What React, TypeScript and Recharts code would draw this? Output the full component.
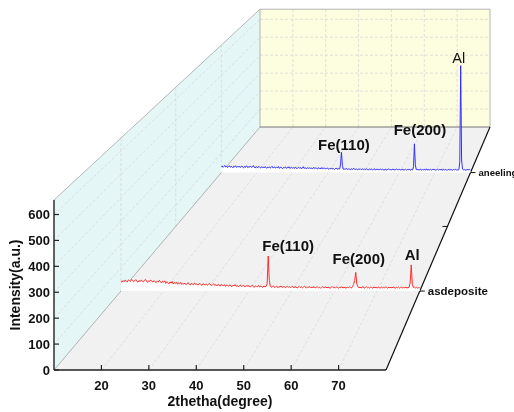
import { ComposedChart, Area, XAxis, YAxis, Customized } from 'recharts';

// 2theta grid (degree)
const twoTheta = [
  10, 10.25, 10.5, 10.75, 11, 11.25, 11.5, 11.75, 12, 12.25, 12.5, 12.75, 13, 13.25, 13.5, 13.75, 14, 14.25, 14.5, 14.75,
  15, 15.25, 15.5, 15.75, 16, 16.25, 16.5, 16.75, 17, 17.25, 17.5, 17.75, 18, 18.25, 18.5, 18.75, 19, 19.25, 19.5, 19.75,
  20, 20.25, 20.5, 20.75, 21, 21.25, 21.5, 21.75, 22, 22.25, 22.5, 22.75, 23, 23.25, 23.5, 23.75, 24, 24.25, 24.5, 24.75,
  25, 25.25, 25.5, 25.75, 26, 26.25, 26.5, 26.75, 27, 27.25, 27.5, 27.75, 28, 28.25, 28.5, 28.75, 29, 29.25, 29.5, 29.75,
  30, 30.25, 30.5, 30.75, 31, 31.25, 31.5, 31.75, 32, 32.25, 32.5, 32.75, 33, 33.25, 33.5, 33.75, 34, 34.25, 34.5, 34.75,
  35, 35.25, 35.5, 35.75, 36, 36.25, 36.5, 36.75, 37, 37.25, 37.5, 37.75, 38, 38.25, 38.5, 38.75, 39, 39.25, 39.5, 39.75,
  40, 40.25, 40.5, 40.75, 41, 41.25, 41.5, 41.75, 42, 42.25, 42.5, 42.75, 43, 43.25, 43.5, 43.75, 44, 44.25, 44.5, 44.75,
  45, 45.25, 45.5, 45.75, 46, 46.25, 46.5, 46.75, 47, 47.25, 47.5, 47.75, 48, 48.25, 48.5, 48.75, 49, 49.25, 49.5, 49.75,
  50, 50.25, 50.5, 50.75, 51, 51.25, 51.5, 51.75, 52, 52.25, 52.5, 52.75, 53, 53.25, 53.5, 53.75, 54, 54.25, 54.5, 54.75,
  55, 55.25, 55.5, 55.75, 56, 56.25, 56.5, 56.75, 57, 57.25, 57.5, 57.75, 58, 58.25, 58.5, 58.75, 59, 59.25, 59.5, 59.75,
  60, 60.25, 60.5, 60.75, 61, 61.25, 61.5, 61.75, 62, 62.25, 62.5, 62.75, 63, 63.25, 63.5, 63.75, 64, 64.25, 64.5, 64.75,
  65, 65.25, 65.5, 65.75, 66, 66.25, 66.5, 66.75, 67, 67.25, 67.5, 67.75, 68, 68.25, 68.5, 68.75, 69, 69.25, 69.5, 69.75,
  70, 70.25, 70.5, 70.75, 71, 71.25, 71.5, 71.75, 72, 72.25, 72.5, 72.75, 73, 73.25, 73.5, 73.75, 74, 74.25, 74.5, 74.75,
  75, 75.25, 75.5, 75.75, 76, 76.25, 76.5, 76.75, 77, 77.25, 77.5, 77.75, 78, 78.25, 78.5, 78.75, 79, 79.25, 79.5, 79.75,
  80,
];

const asdeposite = [
  42, 38, 45, 40, 47, 43, 39, 48, 44, 41, 50, 46, 40, 44, 49, 42, 38, 45, 41, 47,
  43, 39, 46, 50, 42, 37, 44, 41, 47, 43, 38, 45, 40, 36, 43, 39, 46, 41, 35, 42,
  38, 44, 33, 40, 36, 31, 39, 34, 41, 30, 36, 32, 38, 29, 35, 31, 37, 28, 33, 30,
  34, 27, 32, 36, 29, 26, 33, 30, 27, 35, 28, 31, 25, 30, 33, 27, 24, 31, 28, 26,
  30, 25, 29, 33, 26, 23, 28, 31, 24, 27, 22, 29, 26, 21, 28, 25, 23, 27, 20, 26,
  24, 21, 27, 23, 19, 25, 22, 28, 20, 24, 18, 23, 26, 19, 22, 25, 18, 21, 24, 20,
  23, 17, 21, 25, 19, 16, 22, 20, 18, 24, 17, 21, 19, 16, 22, 18, 20, 30, 150, 45,
  20, 16, 19, 22, 15, 18, 21, 14, 19, 17, 22, 15, 18, 20, 14, 17, 21, 16, 19, 15,
  18, 21, 14, 17, 19, 13, 16, 20, 15, 18, 14, 17, 21, 15, 13, 18, 16, 19, 14, 17,
  15, 19, 13, 16, 18, 14, 17, 12, 16, 19, 14, 15, 18, 13, 17, 15, 12, 16, 19, 14,
  16, 13, 18, 15, 12, 17, 14, 19, 13, 16, 15, 12, 17, 14, 18, 15, 13, 19, 28, 45,
  80, 30, 18, 14, 17, 13, 16, 19, 12, 15, 18, 14, 16, 13, 17, 15, 12, 18, 14, 16,
  13, 17, 15, 12, 18, 14, 16, 13, 19, 15, 12, 17, 14, 16, 13, 18, 15, 12, 16, 14,
  17, 13, 15, 18, 12, 16, 14, 17, 13, 15, 16, 35, 112, 28, 15, 17, 13, 16, 12, 15,
  14,
];

const aneeling = [
  30, 34, 27, 32, 36, 29, 33, 26, 31, 35, 28, 32, 30, 25, 33, 29, 35, 27, 31, 28,
  33, 26, 30, 34, 28, 24, 31, 27, 35, 29, 25, 32, 28, 33, 26, 30, 36, 27, 24, 31,
  28, 25, 32, 27, 23, 30, 26, 29, 24, 31, 27, 22, 28, 25, 30, 23, 27, 32, 24, 26,
  29, 23, 27, 25, 31, 22, 26, 28, 24, 20, 27, 25, 29, 22, 26, 24, 30, 21, 25, 27,
  23, 26, 21, 28, 24, 20, 25, 27, 22, 26, 19, 24, 30, 21, 25, 23, 20, 26, 22, 24,
  21, 25, 19, 23, 27, 20, 24, 22, 18, 25, 21, 23, 19, 26, 20, 22, 24, 18, 21, 23,
  20, 17, 22, 19, 24, 18, 21, 16, 20, 23, 17, 19, 21, 18, 45, 104, 35, 18, 16, 20,
  17, 21, 15, 19, 18, 14, 20, 16, 18, 22, 15, 17, 19, 14, 18, 16, 20, 15, 17, 19,
  15, 18, 14, 20, 16, 13, 17, 19, 15, 18, 14, 16, 20, 13, 17, 15, 18, 14, 16, 19,
  14, 17, 15, 12, 18, 16, 13, 17, 19, 14, 16, 12, 18, 15, 17, 13, 16, 19, 14, 15,
  17, 13, 16, 14, 18, 12, 15, 17, 13, 16, 14, 18, 15, 12, 17, 14, 30, 148, 40, 16,
  14, 17, 13, 15, 18, 12, 16, 14, 17, 13, 15, 19, 12, 16, 14, 17, 13, 15, 18, 14,
  16, 12, 15, 17, 13, 16, 14, 18, 12, 15, 17, 13, 16, 14, 12, 17, 15, 13, 16, 14,
  12, 16, 14, 17, 13, 15, 12, 16, 55, 550, 65, 18, 14, 16, 12, 15, 13, 17, 14, 16,
  13,
];

const xTicks = [20, 30, 40, 50, 60, 70];
const yTicks = [0, 100, 200, 300, 400, 500, 600];
const xRange = [10, 80];
const yRange = [0, 656];

// depth axis: samples sit at 1 and 3, unlabeled tick at 2
const samples = ['asdeposite', 'aneeling'];
const sampleDepth = [1, 3];
const depthTicks = [1, 2, 3];
const depthMax = 4;

const peakLabels = [
  { sample: 'asdeposite', text: 'Fe(110)', theta: 44.5 },
  { sample: 'asdeposite', text: 'Fe(200)', theta: 65 },
  { sample: 'asdeposite', text: 'Al', theta: 78 },
  { sample: 'aneeling', text: 'Fe(110)', theta: 43.75 },
  { sample: 'aneeling', text: 'Fe(200)', theta: 64.25 },
  { sample: 'aneeling', text: 'Al', theta: 77.25 },
];
const labelOffsets = [
  { dx: 20, dy: -5.5, weight: 'bold' },
  { dx: 3, dy: -8, weight: 'bold' },
  { dx: 1, dy: -4.5, weight: 'bold' },
  { dx: 2.5, dy: -2, weight: 'bold' },
  { dx: 5.5, dy: -9, weight: 'bold' },
  { dx: -2, dy: -2.5, weight: 'normal' },
];

const seriesColor: Record<string, string> = { asdeposite: '#ff2a2a', aneeling: '#2e2eff' };
const seriesData: Record<string, number[]> = { asdeposite, aneeling };

const rows = twoTheta.map((t, i) => ({ twoTheta: t, asdeposite: asdeposite[i], aneeling: aneeling[i] }));

// layout / projection
const W = 506;
const H = 404;
const FRONT = { left: 46, right: 378, bottom: 362, top: 192 };
const BACK_LEFT = 252;
const BACK_BOTTOM = 119;
const K_BACK = 230 / 332;
const PLOT = { left: 46, right: 482, top: 1, bottom: 362 };
const FONT = '"Liberation Sans", Arial, sans-serif';

const VX = (BACK_LEFT - K_BACK * FRONT.left) / (1 - K_BACK);
const VY = (BACK_BOTTOM - K_BACK * FRONT.bottom) / (1 - K_BACK);
const ppd = (FRONT.right - FRONT.left) / (xRange[1] - xRange[0]);
const ppu = (FRONT.bottom - FRONT.top) / (yRange[1] - yRange[0]);
const shrink = (z: number) => 1 / (1 + ((1 / K_BACK - 1) * z) / depthMax);

function project(theta: number, v: number, z: number): [number, number] {
  const k = shrink(z);
  const fx = FRONT.left + (theta - xRange[0]) * ppd;
  const fy = FRONT.bottom - (v - yRange[0]) * ppu;
  return [VX + (fx - VX) * k, VY + (fy - VY) * k];
}

function xDomainAt(z: number): [number, number] {
  const k = shrink(z);
  const inv = (sx: number) => xRange[0] + (VX + (sx - VX) / k - FRONT.left) / ppd;
  return [inv(PLOT.left), inv(PLOT.right)];
}

function yDomainAt(z: number): [number, number] {
  const k = shrink(z);
  const inv = (sy: number) => yRange[0] + (FRONT.bottom - (VY + (sy - VY) / k)) / ppu;
  return [inv(PLOT.bottom), inv(PLOT.top)];
}

const pts = (list: [number, number][]) => list.map((p) => p.join(',')).join(' ');

function Walls() {
  const [x0, x1] = xRange;
  const [v0, v1] = yRange;
  const D = depthMax;
  const floor = [project(x0, v0, 0), project(x1, v0, 0), project(x1, v0, D), project(x0, v0, D)];
  const side = [project(x0, v0, 0), project(x0, v1, 0), project(x0, v1, D), project(x0, v0, D)];
  const back = [project(x0, v0, D), project(x1, v0, D), project(x1, v1, D), project(x0, v1, D)];
  const grid = { stroke: '#d4d4d4', strokeWidth: 0.7, strokeDasharray: '3 2' };
  const seg = (a: [number, number], b: [number, number], key: string) => (
    <line key={key} x1={a[0]} y1={a[1]} x2={b[0]} y2={b[1]} {...grid} />
  );
  return (
    <g>
      <polygon points={pts(floor)} fill="#f1f1f1" />
      <polygon points={pts(side)} fill="#e4f6f6" />
      <polygon points={pts(back)} fill="#fdfddf" />
      {xTicks.map((t) => seg(project(t, v0, 0), project(t, v0, D), `fx${t}`))}
      {xTicks.map((t) => seg(project(t, v0, D), project(t, v1, D), `bx${t}`))}
      {yTicks.slice(1).map((v) => seg(project(x0, v, D), project(x1, v, D), `by${v}`))}
      {yTicks.slice(1).map((v) => seg(project(x0, v, 0), project(x0, v, D), `sy${v}`))}
      {depthTicks.map((z) => seg(project(x0, v0, z), project(x0, v1, z), `sz${z}`))}
      <polyline points={pts([project(x0, v1, 0), project(x0, v1, D), project(x1, v1, D), project(x1, v0, D)])} fill="none" stroke="#b5b5b5" strokeWidth={1} />
      <line x1={project(x0, v0, D)[0]} y1={project(x0, v0, D)[1]} x2={project(x0, v1, D)[0]} y2={project(x0, v1, D)[1]} stroke="#b5b5b5" strokeWidth={1} />
      <line x1={project(x0, v0, 0)[0]} y1={project(x0, v0, 0)[1]} x2={project(x0, v0, D)[0]} y2={project(x0, v0, D)[1]} stroke="#a0a0a0" strokeWidth={0.8} />
      <line x1={project(x0, v0, D)[0]} y1={project(x0, v0, D)[1]} x2={project(x1, v0, D)[0]} y2={project(x1, v0, D)[1]} stroke="#777" strokeWidth={1} />
    </g>
  );
}

function Overlay() {
  const [x0, x1] = xRange;
  const [v0, v1] = yRange;
  const o = project(x0, v0, 0);
  const xEnd = project(x1, v0, 0);
  const yEnd = project(x0, v1, 0);
  const dEnd = project(x1, v0, depthMax);
  return (
    <g fontFamily={FONT}>
      <line x1={o[0]} y1={o[1]} x2={xEnd[0]} y2={xEnd[1]} stroke="#222" strokeWidth={1.4} />
      <line x1={o[0]} y1={o[1]} x2={yEnd[0]} y2={yEnd[1]} stroke="#222" strokeWidth={1.4} />
      <line x1={xEnd[0]} y1={xEnd[1]} x2={dEnd[0]} y2={dEnd[1]} stroke="#111" strokeWidth={1.2} />
      {depthTicks.map((z) => {
        const p = project(x1, v0, z);
        const i = sampleDepth.indexOf(z);
        const dir = i >= 0 ? 1 : -1;
        const fs = 12.8 * shrink(z);
        return (
          <g key={z}>
            <line x1={p[0]} y1={p[1]} x2={p[0] + 5 * dir} y2={p[1]} stroke="#111" strokeWidth={1} />
            {i >= 0 && (
              <text x={p[0] + 8} y={p[1] + fs * 0.36} fontSize={fs} fontWeight="bold" fill="#111">
                {samples[i]}
              </text>
            )}
          </g>
        );
      })}
      {peakLabels.map((l, i) => {
        const si = samples.indexOf(l.sample);
        const v = seriesData[l.sample][twoTheta.indexOf(l.theta)];
        const p = project(l.theta, v, sampleDepth[si]);
        const s = labelOffsets[i];
        return (
          <text key={i} x={p[0] + s.dx} y={p[1] + s.dy} textAnchor="middle" fontSize={s.weight === 'bold' ? 15 : 14.5} fontWeight={s.weight} fill="#111">
            {l.text}
          </text>
        );
      })}
      <text x={(o[0] + xEnd[0]) / 2} y={398} textAnchor="middle" fontSize={14} fontWeight="bold" fill="#111">
        2thetha(degree)
      </text>
      <text x={11.5} y={(o[1] + yEnd[1]) / 2} transform={`rotate(-90 11.5 ${(o[1] + yEnd[1]) / 2})`} textAnchor="middle" fontSize={14} fontWeight="bold" fill="#111">
        Intensity(a.u.)
      </text>
    </g>
  );
}

function XTick(props: any) {
  const { x, payload } = props;
  return (
    <g>
      <line x1={x} y1={PLOT.bottom} x2={x} y2={PLOT.bottom - 5} stroke="#222" strokeWidth={1.2} />
      <text x={x} y={PLOT.bottom + 20} textAnchor="middle" fontFamily={FONT} fontSize={13} fontWeight="bold" fill="#111">
        {payload.value}
      </text>
    </g>
  );
}

function YTick(props: any) {
  const { y, payload } = props;
  return (
    <g>
      <line x1={PLOT.left} y1={y} x2={PLOT.left + 5} y2={y} stroke="#222" strokeWidth={1.2} />
      <text x={PLOT.left - 4} y={y + 4.5} textAnchor="end" fontFamily={FONT} fontSize={13} fontWeight="bold" fill="#111">
        {payload.value}
      </text>
    </g>
  );
}

export default function App() {
  const back = [...samples].reverse();
  return (
    <div style={{ position: 'fixed', left: 8, top: 8 }}>
      <ComposedChart width={W} height={H} data={rows} margin={{ top: PLOT.top, right: W - PLOT.right, bottom: 0, left: 0 }}>
        <Customized component={Walls} />
        <XAxis
          xAxisId="front"
          type="number"
          dataKey="twoTheta"
          domain={xDomainAt(0)}
          allowDataOverflow
          ticks={xTicks}
          interval={0}
          height={H - PLOT.bottom}
          axisLine={false}
          tickLine={false}
          tick={XTick}
        />
        <YAxis
          yAxisId="front"
          type="number"
          domain={yDomainAt(0)}
          allowDataOverflow
          ticks={yTicks}
          interval={0}
          width={PLOT.left}
          axisLine={false}
          tickLine={false}
          tick={YTick}
        />
        {samples.map((s, i) => (
          <XAxis key={`x-${s}`} xAxisId={s} type="number" dataKey="twoTheta" domain={xDomainAt(sampleDepth[i])} allowDataOverflow hide />
        ))}
        {samples.map((s, i) => (
          <YAxis key={`y-${s}`} yAxisId={s} type="number" domain={yDomainAt(sampleDepth[i])} allowDataOverflow hide />
        ))}
        {back.map((s) => (
          <Area
            key={s}
            xAxisId={s}
            yAxisId={s}
            dataKey={s}
            type="linear"
            stroke={seriesColor[s]}
            strokeWidth={1}
            fill="#ffffff"
            fillOpacity={1}
            baseValue={0}
            dot={false}
            activeDot={false}
            isAnimationActive={false}
          />
        ))}
        <Customized component={Overlay} />
      </ComposedChart>
    </div>
  );
}
